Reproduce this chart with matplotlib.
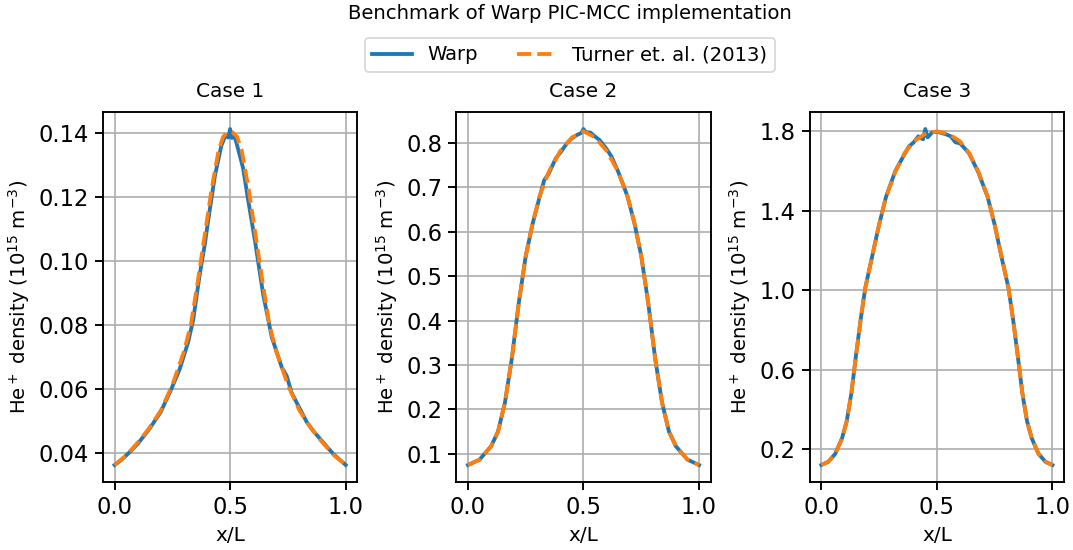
import matplotlib
matplotlib.use("Agg")
import matplotlib.pyplot as plt
import numpy as np

# Case 1
x_turner1 = [0, 0.05, 0.1, 0.15, 0.2, 0.25, 0.3, 0.33, 0.36, 0.39, 0.42, 0.45, 0.47, 0.49, 0.5,
             0.51, 0.53, 0.55, 0.58, 0.61, 0.64, 0.67, 0.7, 0.75, 0.8, 0.85, 0.9, 0.95, 1.0]
n_turner1 = [0.0362, 0.0392, 0.0432, 0.0477, 0.0532, 0.0612, 0.0716, 0.0800, 0.0935, 0.1080,
             0.1225, 0.1345, 0.1388, 0.1402, 0.1403,
             0.1402, 0.1388, 0.1345, 0.1225, 0.1080, 0.0935, 0.0800, 0.0716, 0.0612, 0.0532,
             0.0477, 0.0432, 0.0392, 0.0362]
x_warp1 = [0, 0.03, 0.065, 0.1, 0.15, 0.2, 0.246, 0.282, 0.318, 0.34, 0.368, 0.39, 0.41, 0.434,
           0.462, 0.48, 0.492, 0.5, 0.508, 0.52, 0.538, 0.556, 0.578, 0.607, 0.643, 0.68, 0.723,
           0.745, 0.766, 0.8, 0.831, 0.86, 0.889, 0.92, 0.946, 0.975, 1.0]
n_warp1 = [0.0362, 0.0378, 0.0402, 0.0428, 0.0474, 0.0528, 0.0600, 0.0662, 0.0745, 0.0815,
           0.0955, 0.1050, 0.1150, 0.1265, 0.1360, 0.1392, 0.1385, 0.1412, 0.1384, 0.1388,
           0.1340, 0.1290, 0.1190, 0.1065, 0.0895, 0.0762, 0.0668, 0.0640, 0.0588, 0.0540,
           0.0497, 0.0468, 0.0444, 0.0418, 0.0397, 0.0378, 0.0362]

# Case 2
x_turner2 = [0, 0.05, 0.1, 0.13, 0.16, 0.19, 0.22, 0.25, 0.28, 0.31, 0.35, 0.4, 0.45, 0.5,
             0.55, 0.6, 0.65, 0.69, 0.72, 0.75, 0.78, 0.81, 0.84, 0.87, 0.9, 0.95, 1.0]
n_turner2 = [0.075, 0.087, 0.117, 0.150, 0.215, 0.315, 0.440, 0.545, 0.620, 0.680, 0.735,
             0.782, 0.812, 0.826,
             0.812, 0.782, 0.735, 0.680, 0.620, 0.545, 0.440, 0.315, 0.215, 0.150, 0.117,
             0.087, 0.075]
x_warp2 = [0, 0.05, 0.1, 0.13, 0.16, 0.19, 0.22, 0.25, 0.28, 0.31, 0.33, 0.35, 0.38, 0.4, 0.43,
           0.45, 0.47, 0.49, 0.5, 0.51, 0.53, 0.55, 0.57, 0.6, 0.62, 0.65, 0.69, 0.72, 0.75,
           0.78, 0.81, 0.84, 0.87, 0.9, 0.95, 1.0]
n_warp2 = [0.075, 0.087, 0.117, 0.150, 0.215, 0.315, 0.440, 0.545, 0.618, 0.678, 0.716, 0.731,
           0.765, 0.778, 0.800, 0.810, 0.817, 0.822, 0.831, 0.824, 0.823, 0.814, 0.806, 0.786,
           0.770, 0.735, 0.680, 0.620, 0.545, 0.440, 0.315, 0.215, 0.150, 0.117, 0.087, 0.075]

# Case 3
x_turner3 = [0, 0.03, 0.06, 0.09, 0.11, 0.13, 0.15, 0.17, 0.19, 0.22, 0.25, 0.28, 0.32, 0.36,
             0.4, 0.45, 0.5, 0.55, 0.6, 0.64, 0.68, 0.72, 0.75, 0.78, 0.81, 0.83, 0.85, 0.87,
             0.89, 0.91, 0.94, 0.97, 1.0]
n_turner3 = [0.119, 0.135, 0.175, 0.255, 0.340, 0.480, 0.670, 0.850, 1.010, 1.170, 1.330,
             1.470, 1.595, 1.690, 1.750, 1.788, 1.800, 1.788, 1.750, 1.690, 1.595, 1.470,
             1.330, 1.170, 1.010, 0.850, 0.670, 0.480, 0.340, 0.255, 0.175, 0.135, 0.119]
x_warp3 = [0, 0.03, 0.06, 0.09, 0.11, 0.13, 0.15, 0.17, 0.19, 0.22, 0.25, 0.28, 0.32, 0.36,
           0.38, 0.4, 0.42, 0.44, 0.45, 0.46, 0.48, 0.5, 0.52, 0.54, 0.56, 0.58, 0.6, 0.62,
           0.64, 0.68, 0.72, 0.75, 0.78, 0.81, 0.83, 0.85, 0.87, 0.89, 0.91, 0.94, 0.97, 1.0]
n_warp3 = [0.119, 0.135, 0.175, 0.255, 0.340, 0.480, 0.670, 0.850, 1.010, 1.170, 1.330, 1.470,
           1.600, 1.685, 1.725, 1.745, 1.775, 1.760, 1.812, 1.770, 1.795, 1.798, 1.792, 1.785,
           1.775, 1.745, 1.740, 1.715, 1.688, 1.592, 1.468, 1.330, 1.165, 1.010, 0.850, 0.668,
           0.480, 0.340, 0.255, 0.175, 0.135, 0.119]

case_titles = ["Case 1", "Case 2", "Case 3"]
yticks = [[0.04, 0.06, 0.08, 0.10, 0.12, 0.14],
          [0.1, 0.2, 0.3, 0.4, 0.5, 0.6, 0.7, 0.8],
          [0.2, 0.6, 1.0, 1.4, 1.8]]

warp = [(x_warp1, n_warp1), (x_warp2, n_warp2), (x_warp3, n_warp3)]
turner = [(x_turner1, n_turner1), (x_turner2, n_turner2), (x_turner3, n_turner3)]

fig, axes = plt.subplots(1, 3, figsize=(1073/125, 550/125), dpi=125)
fig.subplots_adjust(left=0.096, right=0.9916, bottom=0.124, top=0.796, wspace=0.39)

for i, ax in enumerate(axes):
    ax.plot(warp[i][0], warp[i][1], color="C0", lw=2.2, label="Warp")
    ax.plot(turner[i][0], turner[i][1], "--", color="C1", lw=2.2, label="Turner et. al. (2013)")
    ax.set_title(case_titles[i], fontsize=11.5, pad=9)
    ax.set_xlabel("x/L", fontsize=11.5)
    ax.set_ylabel(r"He$^+$ density (10$^{15}$ m$^{-3}$)", fontsize=11.3)
    ax.set_yticks(yticks[i])
    ax.set_xticks([0.0, 0.5, 1.0])
    ax.tick_params(labelsize=13, width=1.1, length=4.5)
    ax.grid(True, lw=1.0)
    for sp in ax.spines.values():
        sp.set_linewidth(1.1)

handles, labels = axes[0].get_legend_handles_labels()
fig.legend(handles, labels, loc="center", ncol=2, bbox_to_anchor=(0.531, 0.9), fontsize=11.3)
fig.suptitle("Benchmark of Warp PIC-MCC implementation", x=0.531, y=0.992, fontsize=11.3)

fig.savefig("out.png", dpi=125)
